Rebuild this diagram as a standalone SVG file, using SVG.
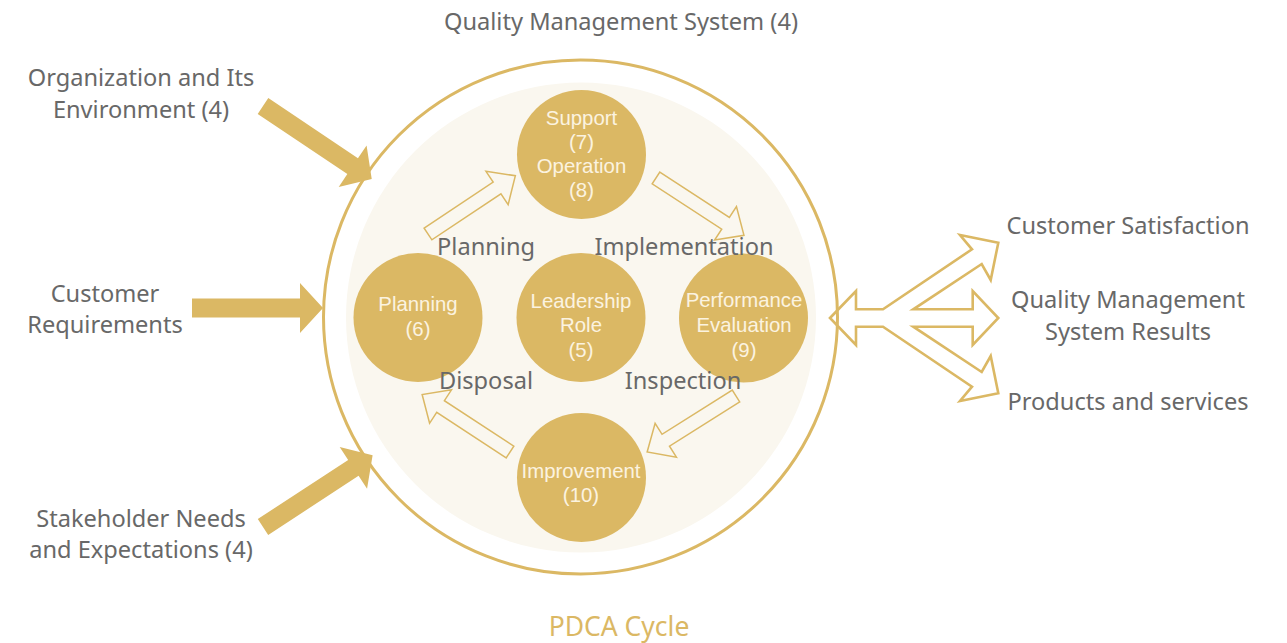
<svg xmlns="http://www.w3.org/2000/svg" width="1287" height="643" viewBox="0 0 1287 643">
  <style>
    .lbl { font-family: "Noto Sans", "Liberation Sans", sans-serif; font-size: 23.6px; fill: #686868; text-anchor: middle; }
    .ntx { font-family: "Liberation Sans", Arial, sans-serif; font-size: 20.4px; fill: #FBF3E0; text-anchor: middle; }
    .node { fill: #DBB864; }
    .solid { fill: #DBB864; }
    .hollow { fill: none; stroke: #DBB864; stroke-width: 1.5; stroke-linejoin: miter; }
    .fork { fill: none; stroke: #DBB864; stroke-width: 2.6; stroke-linejoin: miter; }
  </style>
  <defs>
    <path id="bigArrow" d="M0,-9.5 H108 V-25 L131,0 L108,25 V9.5 H0 Z"/>
    <path id="ringArrow" d="M0,-7 H83 V-20 L105,0 L83,20 V7 H0 Z"/>
  </defs>

  <rect width="1287" height="643" fill="#FFFFFF"/>

  <!-- system boundary and cycle area -->
  <g id="system">
    <circle cx="580.5" cy="317" r="257" fill="#FFFFFF" stroke="#DBB864" stroke-width="3"/>
    <circle cx="581" cy="317.5" r="235" fill="#FAF7EF"/>
  </g>

  <g id="connectors">
    <!-- inputs -->
    <use href="#bigArrow" class="solid" transform="translate(263,106) rotate(33.9)"/>
    <use href="#bigArrow" class="solid" transform="translate(192,308)"/>
    <use href="#bigArrow" class="solid" transform="translate(263,527) rotate(-33.2)"/>
    <!-- cycle arrows -->
    <use href="#ringArrow" class="hollow" transform="translate(428,234) rotate(-33.7)"/>
    <use href="#ringArrow" class="hollow" transform="translate(656,178) rotate(33.1)"/>
    <use href="#ringArrow" class="hollow" transform="translate(736,396) rotate(147.8)"/>
    <use href="#ringArrow" class="hollow" transform="translate(510,452) rotate(-146.8)"/>
    <!-- outputs fork -->
    <path class="fork" d="M830,318 L856,291 V309.3 H883 L972,249.3 L960,235 L998.3,242.7 L990.7,280 L981.7,264 L913.3,309.3 H972.7 V291 L998.3,318 L972.7,345 V326.7 H913.3 L981.7,372 L990.7,356 L998.3,393.3 L960,401 L972,386.7 L883,326.7 H856 V345 Z"/>
  </g>

  <g id="node-support">
    <circle class="node" cx="581.5" cy="154.5" r="64.5"/>
    <text class="ntx" x="581.5" y="125">Support</text>
    <text class="ntx" x="581.5" y="149">(7)</text>
    <text class="ntx" x="581.5" y="173">Operation</text>
    <text class="ntx" x="581.5" y="197">(8)</text>
  </g>
  <g id="node-planning">
    <circle class="node" cx="418" cy="317.5" r="64.5"/>
    <text class="ntx" x="418" y="311">Planning</text>
    <text class="ntx" x="418" y="336">(6)</text>
  </g>
  <g id="node-leadership">
    <circle class="node" cx="581" cy="317.5" r="64.5"/>
    <text class="ntx" x="581" y="308">Leadership</text>
    <text class="ntx" x="581" y="332">Role</text>
    <text class="ntx" x="581" y="357">(5)</text>
  </g>
  <g id="node-performance">
    <circle class="node" cx="743.5" cy="318" r="64.5"/>
    <text class="ntx" x="744" y="307">Performance</text>
    <text class="ntx" x="744" y="332">Evaluation</text>
    <text class="ntx" x="744" y="357">(9)</text>
  </g>
  <g id="node-improvement">
    <circle class="node" cx="581.5" cy="477.5" r="64.5"/>
    <text class="ntx" x="581" y="478">Improvement</text>
    <text class="ntx" x="581" y="502">(10)</text>
  </g>

  <!-- phase labels -->
  <g id="phase-labels">
    <text class="lbl" x="486" y="255">Planning</text>
    <text class="lbl" x="684" y="255">Implementation</text>
    <text class="lbl" x="486" y="389">Disposal</text>
    <text class="lbl" x="683" y="389">Inspection</text>
  </g>

  <g id="title">
    <text class="lbl" x="621" y="30">Quality Management System (4)</text>
  </g>

  <g id="inputs">
    <text class="lbl" x="141" y="86">Organization and Its</text>
    <text class="lbl" x="141" y="118">Environment (4)</text>
    <text class="lbl" x="105" y="302">Customer</text>
    <text class="lbl" x="105" y="333">Requirements</text>
    <text class="lbl" x="141" y="527">Stakeholder Needs</text>
    <text class="lbl" x="141" y="558">and Expectations (4)</text>
  </g>

  <g id="outputs">
    <text class="lbl" x="1128" y="234">Customer Satisfaction</text>
    <text class="lbl" x="1128" y="308">Quality Management</text>
    <text class="lbl" x="1128" y="340">System Results</text>
    <text class="lbl" x="1128" y="410">Products and services</text>
  </g>

  <g id="cycle-caption">
    <text x="619" y="636" style="font-family: 'Noto Sans', 'Liberation Sans', sans-serif; font-size: 26.5px; fill: #DBB864; text-anchor: middle;">PDCA Cycle</text>
  </g>
</svg>
